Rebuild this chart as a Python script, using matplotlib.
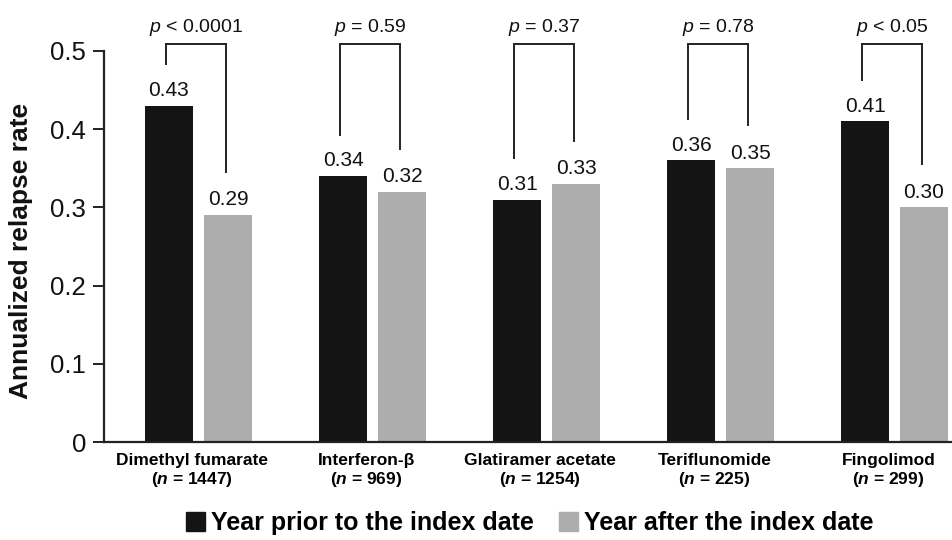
import matplotlib
matplotlib.use("Agg")
from matplotlib import pyplot as plt
from matplotlib.patches import Patch
import numpy as np

plt.rcParams['font.family'] = ['Liberation Sans', 'DejaVu Sans']
plt.rcParams['mathtext.fontset'] = 'custom'
plt.rcParams['mathtext.rm'] = 'Liberation Sans'
plt.rcParams['mathtext.it'] = 'Liberation Sans:italic'
plt.rcParams['mathtext.bf'] = 'Liberation Sans:bold'
plt.rcParams['mathtext.bfit'] = 'Liberation Sans:bold:italic'

drugs = ["Dimethyl fumarate", "Interferon-β", "Glatiramer acetate", "Teriflunomide", "Fingolimod"]
n_pat = [1447, 969, 1254, 225, 299]
prior = [0.43, 0.34, 0.31, 0.36, 0.41]
after = [0.29, 0.32, 0.33, 0.35, 0.30]
p_text = ["< 0.0001", "= 0.59", "= 0.37", "= 0.78", "< 0.05"]

c_prior = "#141414"
c_after = "#adadad"
c_line = "#222222"

fig = plt.figure(figsize=(9.53, 5.40), dpi=100)
ax = fig.add_axes([104/953, 98/540, 849/953, 391/540])

x = np.arange(len(drugs))
w = 0.276
off = 0.1695
ax.bar(x - off, prior, w, color=c_prior, zorder=2)
ax.bar(x + off, after, w, color=c_after, zorder=2)

for xi, a, b in zip(x, prior, after):
    ax.annotate(f"{a:.2f}", (xi - off, a), xytext=(0, 7), textcoords="offset points",
                ha="center", va="baseline", fontsize=15, color="#111111")
    ax.annotate(f"{b:.2f}", (xi + off, b), xytext=(0, 7), textcoords="offset points",
                ha="center", va="baseline", fontsize=15, color="#111111")

# brackets with p values
top = 0.509
for xi, a, b, p in zip(x, prior, after, p_text):
    xl = xi - off - 0.018
    xr = xi + off - 0.012
    ax.plot([xl, xl, xr, xr], [a + 0.053, top, top, b + 0.055], color=c_line,
            lw=1.4, clip_on=False, solid_joinstyle="miter")
    ax.text((xl + xr) / 2, 0.524, r"$\it{p}$ " + p, ha="center", va="baseline",
            fontsize=14, color="#111111", clip_on=False)

ax.set_xlim(-0.543, 4.336)
ax.set_ylim(0, 0.5)
ax.set_yticks([0, 0.1, 0.2, 0.3, 0.4, 0.5])
ax.set_yticklabels(["0", "0.1", "0.2", "0.3", "0.4", "0.5"])
ax.set_xticks(x - 0.035)
ax.set_xticklabels([f"{d}\n($\\mathbfit{{n}}$ = {n})" for d, n in zip(drugs, n_pat)],
                   fontsize=12.5, fontweight="bold", linespacing=1.15)
ax.tick_params(axis="x", length=0, pad=8)
ax.tick_params(axis="y", length=8, width=1.4, pad=5, labelsize=18.5, color=c_line,
               labelcolor="#111111")
for s in ["top", "right"]:
    ax.spines[s].set_visible(False)
for s in ["left", "bottom"]:
    ax.spines[s].set_linewidth(1.6)
    ax.spines[s].set_color(c_line)

fig.text(21/953, 1 - 251/540, "Annualized relapse rate", rotation=90, ha="center",
         va="center", fontsize=19, fontweight="bold", color="#111111")

handles = [Patch(color=c_prior), Patch(color=c_after)]
fig.legend(handles, ["Year prior to the index date", "Year after the index date"],
           loc="center", bbox_to_anchor=(530/953, 1 - 523/540), ncol=2, frameon=False,
           prop={"size": 18, "weight": "bold"}, handlelength=0.76, handleheight=0.76,
           handletextpad=0.25, columnspacing=1.0, borderpad=0, borderaxespad=0)

fig.savefig("out.png", dpi=100)
